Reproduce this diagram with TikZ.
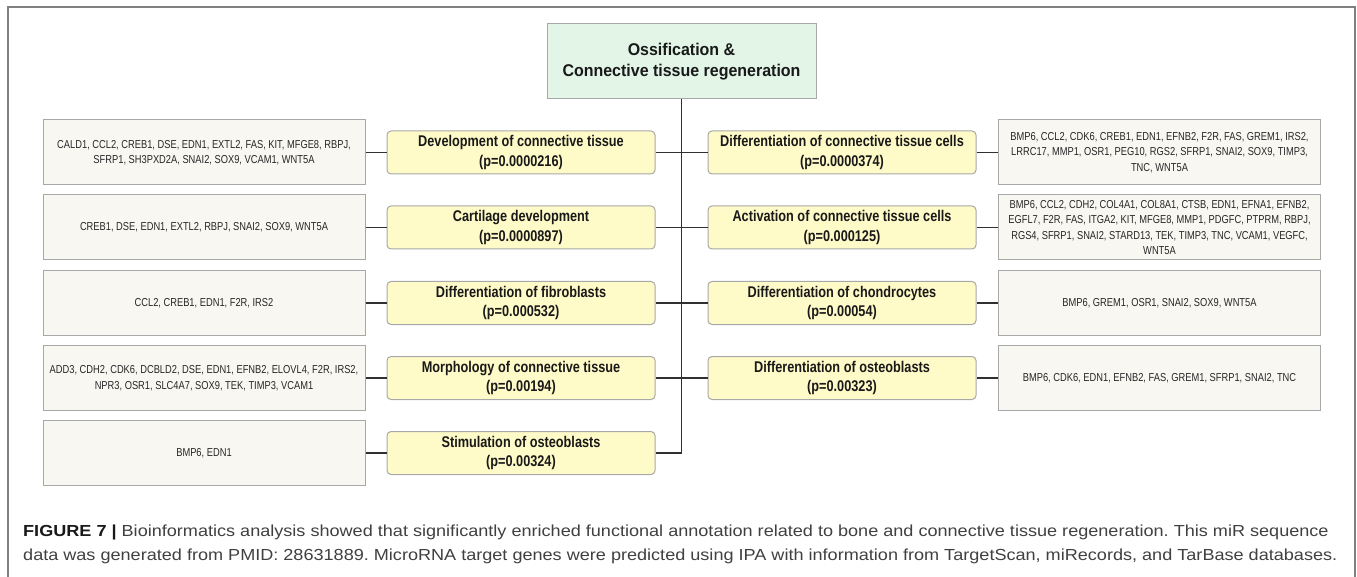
\documentclass[tikz,border=0pt]{standalone}
\usepackage{fontspec}
\setmainfont{Liberation Sans}
\newfontfamily\condfont{Liberation Sans}[FakeStretch=0.81]
\newfontfamily\boldcond{Liberation Sans}[FakeStretch=0.82]
\newfontfamily\topfont{Liberation Sans}[FakeStretch=0.94]
\newfontfamily\capfont{Liberation Sans}[FakeStretch=1.13]
\definecolor{framegray}{HTML}{808080}
\definecolor{boxborder}{HTML}{A8A8A8}
\definecolor{genefill}{HTML}{F8F7F2}
\definecolor{yelfill}{HTML}{FFFBC8}
\definecolor{greenfill}{HTML}{E2F5E7}
\definecolor{linecol}{HTML}{303030}
\definecolor{captext}{HTML}{404040}
\tikzset{
  genebox/.style={draw=boxborder, fill=genefill, line width=1pt, minimum width=322pt, minimum height=65pt, inner sep=0pt, align=center, text=black!85, font=\condfont\fontsize{11.5}{15.5}\selectfont},
  catbox/.style={draw=boxborder, fill=yelfill, line width=1pt, rounded corners=4pt, minimum width=268pt, minimum height=43pt, inner sep=0pt, align=center, text=black!90, font=\boldcond\bfseries\fontsize{15.5}{19.5}\selectfont},
  topbox/.style={draw=boxborder, fill=greenfill, line width=1pt, minimum width=269pt, minimum height=75pt, inner sep=0pt, align=center, text=black!90, font=\topfont\bfseries\fontsize{17}{21}\selectfont},
  conn/.style={draw=linecol, line width=1.4pt},
  captionline/.style={anchor=base west, inner sep=0pt, text=captext, font=\capfont\fontsize{16}{18}\selectfont\frenchspacing}
}
\begin{document}
\begin{tikzpicture}[x=1pt,y=-1pt]
\useasboundingbox (0,0) rectangle (1357,577);
% frame
\draw[framegray, line width=2pt] (8,578) -- (8,7) -- (1355,7) -- (1355,578);
% top
\node[topbox] (top) at (681.5,61.5) {Ossification \&\\Connective tissue regeneration};
\coordinate (trunkend) at (681.5,453);
\draw[conn] (top.south) -- (trunkend);
% left column
\node[genebox] (g1) at (204,152.5) {CALD1, CCL2, CREB1, DSE, EDN1, EXTL2, FAS, KIT, MFGE8, RBPJ,\\SFRP1, SH3PXD2A, SNAI2, SOX9, VCAM1, WNT5A};
\node[genebox] (g2) at (204,227.5) {CREB1, DSE, EDN1, EXTL2, RBPJ, SNAI2, SOX9, WNT5A};
\node[genebox] (g3) at (204,303) {CCL2, CREB1, EDN1, F2R, IRS2};
\node[genebox] (g4) at (204,378) {ADD3, CDH2, CDK6, DCBLD2, DSE, EDN1, EFNB2, ELOVL4, F2R, IRS2,\\NPR3, OSR1, SLC4A7, SOX9, TEK, TIMP3, VCAM1};
\node[genebox] (g5) at (204,453) {BMP6, EDN1};
\node[catbox] (c1) at (521,152.5) {Development of connective tissue\\(p=0.0000216)};
\node[catbox] (c2) at (521,227.5) {Cartilage development\\(p=0.0000897)};
\node[catbox] (c3) at (521,303) {Differentiation of fibroblasts\\(p=0.000532)};
\node[catbox] (c4) at (521,378) {Morphology of connective tissue\\(p=0.00194)};
\node[catbox] (c5) at (521,453) {Stimulation of osteoblasts\\(p=0.00324)};
% right column
\node[catbox] (d1) at (842,152.5) {Differentiation of connective tissue cells\\(p=0.0000374)};
\node[catbox] (d2) at (842,227.5) {Activation of connective tissue cells\\(p=0.000125)};
\node[catbox] (d3) at (842,303) {Differentiation of chondrocytes\\(p=0.00054)};
\node[catbox] (d4) at (842,378) {Differentiation of osteoblasts\\(p=0.00323)};
\node[genebox] (h1) at (1159.5,152.5) {BMP6, CCL2, CDK6, CREB1, EDN1, EFNB2, F2R, FAS, GREM1, IRS2,\\LRRC17, MMP1, OSR1, PEG10, RGS2, SFRP1, SNAI2, SOX9, TIMP3,\\TNC, WNT5A};
\node[genebox] (h2) at (1159.5,227.5) {BMP6, CCL2, CDH2, COL4A1, COL8A1, CTSB, EDN1, EFNA1, EFNB2,\\EGFL7, F2R, FAS, ITGA2, KIT, MFGE8, MMP1, PDGFC, PTPRM, RBPJ,\\RGS4, SFRP1, SNAI2, STARD13, TEK, TIMP3, TNC, VCAM1, VEGFC,\\WNT5A};
\node[genebox] (h3) at (1159.5,303) {BMP6, GREM1, OSR1, SNAI2, SOX9, WNT5A};
\node[genebox] (h4) at (1159.5,378) {BMP6, CDK6, EDN1, EFNB2, FAS, GREM1, SFRP1, SNAI2, TNC};
% connectors
\foreach \i in {1,...,5}{
  \draw[conn] (g\i.east) -- (c\i.west);
  \draw[conn] (c\i.east) -- (c\i.east -| top.south);
}
\foreach \i in {1,...,4}{
  \draw[conn] (d\i.east) -- (h\i.west);
  \draw[conn] (d\i.west) -- (d\i.west -| top.south);
}
% caption
\node[captionline] (cap1) at (23,536) {{\bfseries\color{black!90}FIGURE 7 |} Bioinformatics analysis showed that significantly enriched functional annotation related to bone and connective tissue regeneration. This miR sequence};
\node[captionline] (cap2) at (23,560) {data was generated from PMID: 28631889. MicroRNA target genes were predicted using IPA with information from TargetScan, miRecords, and TarBase databases.};
\end{tikzpicture}
\end{document}
